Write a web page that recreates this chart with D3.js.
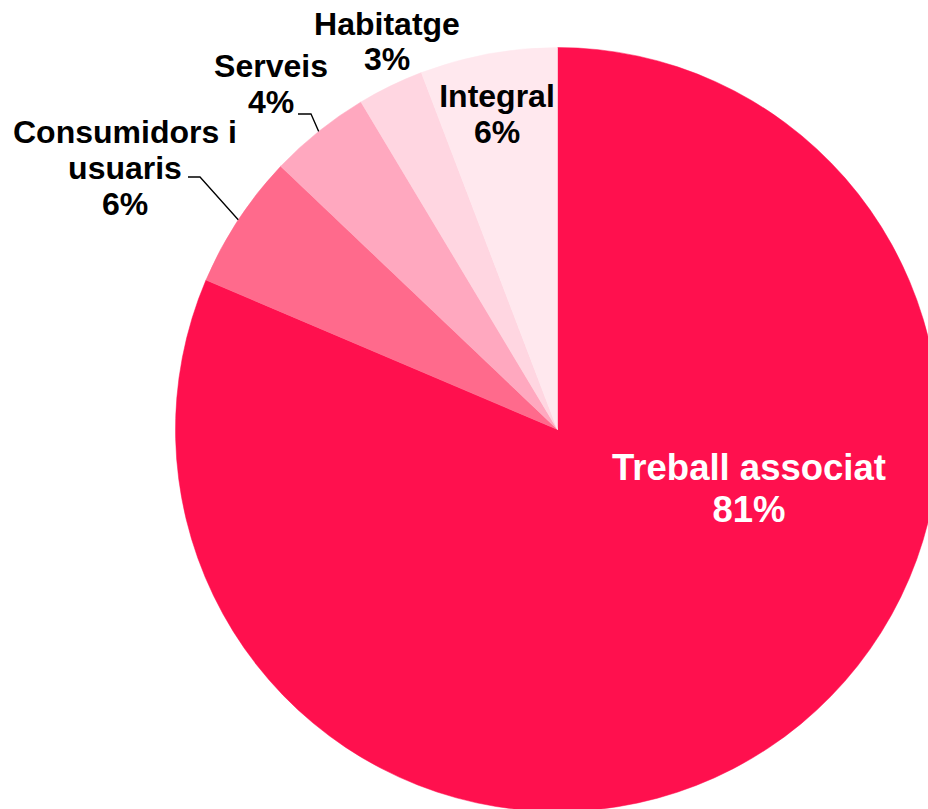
<!DOCTYPE html>
<html>
<head>
<meta charset="utf-8">
<script src="https://cdn.jsdelivr.net/npm/d3@7"></script>
<style>
  html, body { margin: 0; padding: 0; background: #fff; overflow: hidden; }
  svg { display: block; }
  text { font-family: "Liberation Sans", Arial, sans-serif; font-weight: bold; }
</style>
</head>
<body>
<script>
// ---- data ----
const categories = ["Treball associat", "Consumidors i usuaris", "Serveis", "Habitatge", "Integral"];
const values = [81.4, 5.7, 4.3, 2.8, 5.8];
const percentLabels = ["81%", "6%", "4%", "3%", "6%"];
const colors = ["#FF104E", "#FF6A8C", "#FFA8BF", "#FFD6E1", "#FFE8EE"];

// ---- layout (separate from data) ----
const W = 928, H = 809;
const cx = 557.5, cy = 429.5, R = 382;
const labelLayout = [
  { lines: ["Treball associat"], x: 749, y: 480, size: 36.5, lh: 42, fill: "#fff" },
  { lines: ["Consumidors i", "usuaris"], x: 125, y: 143, size: 32, lh: 36, fill: "#000",
    leader: { elbowX: 200, elbowY: 177, endX: 188 } },
  { lines: ["Serveis"], x: 271, y: 77, size: 32, lh: 36, fill: "#000",
    leader: { elbowX: 311, elbowY: 114, endX: 298 } },
  { lines: ["Habitatge"], x: 387, y: 35, size: 32, lh: 35, fill: "#000" },
  { lines: ["Integral"], x: 497, y: 107, size: 32, lh: 36, fill: "#000" }
];

const svg = d3.select("body").append("svg")
  .attr("width", W).attr("height", H)
  .attr("viewBox", `0 0 ${W} ${H}`);

const pie = d3.pie().sort(null).value(d => d.value).startAngle(0).endAngle(2 * Math.PI);
const data = categories.map((c, i) => ({ name: c, value: values[i], pct: percentLabels[i], color: colors[i] }));
const arcs = pie(data);
const arc = d3.arc().innerRadius(0).outerRadius(R);

const g = svg.append("g").attr("transform", `translate(${cx},${cy})`);
g.selectAll("path.slice").data(arcs).enter().append("path")
  .attr("class", "slice")
  .attr("d", arc)
  .attr("fill", d => d.data.color)
  .attr("stroke", d => d.data.color)
  .attr("stroke-width", 0.5);

// leader lines
arcs.forEach((a, i) => {
  const L = labelLayout[i];
  if (!L.leader) return;
  const mid = (a.startAngle + a.endAngle) / 2;
  const ex = cx + R * Math.sin(mid), ey = cy - R * Math.cos(mid);
  svg.append("polyline")
    .attr("points", `${ex},${ey} ${L.leader.elbowX},${L.leader.elbowY} ${L.leader.endX},${L.leader.elbowY}`)
    .attr("fill", "none").attr("stroke", "#000").attr("stroke-width", 1.3);
});

// labels
arcs.forEach((a, i) => {
  const L = labelLayout[i];
  const t = svg.append("text")
    .attr("text-anchor", "middle")
    .attr("font-size", L.size)
    .attr("fill", L.fill);
  const lines = L.lines.concat([a.data.pct]);
  lines.forEach((s, k) => {
    t.append("tspan").attr("x", L.x).attr("y", L.y + k * L.lh).text(s);
  });
});
</script>
</body>
</html>
